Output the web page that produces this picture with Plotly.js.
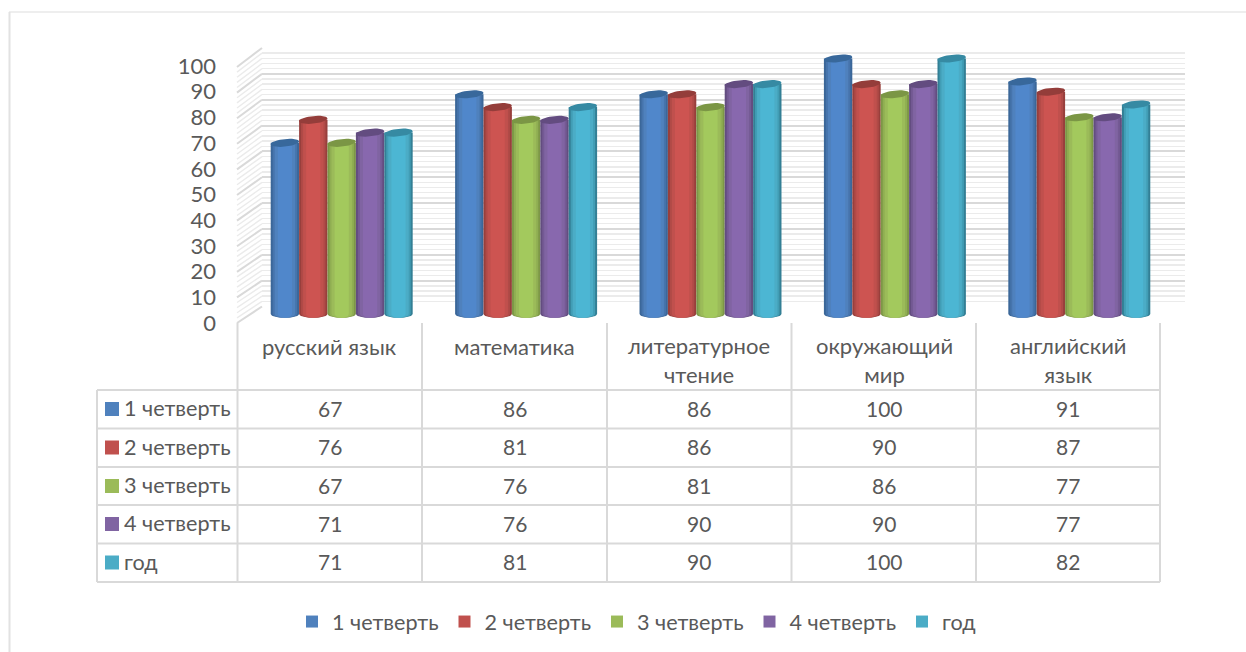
<!DOCTYPE html>
<html><head><meta charset="utf-8">
<script src="https://cdn.plot.ly/plotly-3.0.1.min.js"></script>
<style>html,body{margin:0;padding:0;background:#fff}#c{width:1246px;height:652px}</style>
</head><body><div id="c"></div>
<script>
const categories = ["русский язык","математика","литературное<br>чтение","окружающий<br>мир","английский<br>язык"];
const seriesNames = ["1 четверть","2 четверть","3 четверть","4 четверть","год"];
const q1 = [67,86,86,100,91];
const q2 = [76,81,86,90,87];
const q3 = [67,76,81,86,77];
const q4 = [71,76,90,90,77];
const year = [71,81,90,100,82];
const allSeries = [q1,q2,q3,q4,year];
const baseColors = ["#4f81bd","#c0504d","#9bbb59","#8064a2","#4bacc6"];
const lightColors = ["#5087cb","#cd5451","#a3c95d","#8868ae","#4cb6d3"];
const edgeColors = ["#3b6799","#983f3c","#7d9747","#634d80","#337f95"];
const midColors = ["#4674ac","#b04a47","#8fae52","#745a94","#419db5"];
const capColors = ["#38689b","#943d3a","#7b9645","#634c80","#368aa3"];
const FONT = "Lato, Carlito, 'Noto Sans', sans-serif";
const TXT = "#595959", GRID = "#d9d9d9", MINOR = "#ebebeb";
const W = 1246, H = 652;
const px = x => x / W, py = y => 1 - y / H;
const xDomain = (a,b) => [px(a),px(b)];
function yDomain(y0,y100,lo,hi){ const s=(y0-y100)/100; return [py(y0-lo*s), py(y0-hi*s)]; }

const barWidth = 0.154, nS = 5;
const bands = [[1,edgeColors],[0.86,midColors],[0.72,baseColors],[0.5,lightColors]];
const traces = [];
traces.push({type:"scatter",mode:"none",x:[0],y:[0],xaxis:"x",yaxis:"y",showlegend:false,hoverinfo:"skip"});
allSeries.forEach((vals,s)=>{
  const centerOff = (s-(nS-1)/2)*barWidth;
  bands.forEach(([f,cols],bi)=>{
    const w = barWidth*f;
    traces.push({type:"bar",name:seriesNames[s],x:vals.map((_,i)=>i),y:vals,
      width:vals.map(()=>w),offset:vals.map(()=>centerOff-w/2),
      marker:{color:cols[s],line:{width:0}},xaxis:"x2",yaxis:"y2",
      showlegend:bi===2,legendgroup:seriesNames[s],hoverinfo:"skip"});
  });
});
const aX = barWidth/2, bY = 1.5, tilt = 0.55;
allSeries.forEach((vals,s)=>{
  const centerOff = (s-(nS-1)/2)*barWidth;
  // rounded foot of each bar: nested half ellipses that continue the shading bands
  bands.forEach(([f,cols])=>{
    const bx=[],by=[];
    vals.forEach((v,i)=>{
      for(let k=0;k<=18;k++){const t=k/18*Math.PI;
        bx.push(i+centerOff+aX*f*Math.cos(t)); by.push(-bY*Math.sin(t));}
      bx.push(null);by.push(null);
    });
    traces.push({type:"scatter",mode:"lines",x:bx,y:by,fill:"toself",fillcolor:cols[s],line:{width:0},showlegend:false,hoverinfo:"skip",xaxis:"x2",yaxis:"y2"});
  });
  const cx=[],cy=[];
  vals.forEach((v,i)=>{
    for(let k=0;k<=36;k++){const t=k/36*2*Math.PI;
      cx.push(i+centerOff+aX*Math.cos(t)); cy.push(v+bY*Math.sin(t)+tilt*Math.cos(t));}
    cx.push(null);cy.push(null);
  });
  traces.push({type:"scatter",mode:"lines",x:cx,y:cy,fill:"toself",fillcolor:capColors[s],line:{width:0},showlegend:false,hoverinfo:"skip",xaxis:"x2",yaxis:"y2"});
});
traces.push({type:"scatter",mode:"none",x:[0],y:[0],xaxis:"x3",yaxis:"y3",showlegend:false,hoverinfo:"skip"});

const shapes = [], annotations = [];
function line(x0,y0,x1,y1,color,width,layer){
  shapes.push({type:"line",xref:"paper",yref:"paper",x0:px(x0),y0:py(y0),x1:px(x1),y1:py(y1),line:{color,width},layer:layer||"below"});
}
line(9,12,1246,12,"#dedede",1.2); line(9.5,12,9.5,652,"#e2e2e2",2);
for(let v=0;v<=100;v+=2){
  const major = v%10===0;
  line(237,323-2.56*v,262,306.5-2.585*v,major?GRID:MINOR,major?2:1.4);
}
[390,428.5,467,505,543.5,582].forEach(y=>line(97,y,1160,y,GRID,2));
[237.5,422,607,791.5,976,1160].forEach(x=>line(x,323,x,582,GRID,2));
line(97,390,97,582,GRID,2);
const colX = [330,514.5,699,884,1068];
const rowY = [409,447.5,486,524,562.5];
categories.forEach((c,i)=>annotations.push({xref:"paper",yref:"paper",x:px(colX[i]),y:py(i<2?346:360),text:c,showarrow:false,
  font:{family:FONT,size:22,color:TXT},xanchor:"center",yanchor:"middle",align:"center"}));
seriesNames.forEach((n,s)=>{
  annotations.push({xref:"paper",yref:"paper",x:px(122),y:py(rowY[s]-1),text:n,showarrow:false,xanchor:"left",yanchor:"middle",
    font:{family:FONT,size:21.6,color:TXT}});
  shapes.push({type:"rect",xref:"paper",yref:"paper",x0:px(105),x1:px(119),y0:py(rowY[s]-7),y1:py(rowY[s]+7),fillcolor:baseColors[s],line:{width:0},layer:"above"});
  allSeries[s].forEach((v,i)=>annotations.push({xref:"paper",yref:"paper",x:px(colX[i]),y:py(rowY[s]-1),text:String(v),showarrow:false,
    xanchor:"center",yanchor:"middle",font:{family:FONT,size:21,color:TXT}}));
});

const layout = {
  width:W,height:H,margin:{l:0,r:0,t:0,b:0},paper_bgcolor:"#fff",plot_bgcolor:"rgba(0,0,0,0)",
  barmode:"overlay",showlegend:true,
  font:{family:FONT,color:TXT},
  legend:{orientation:"h",itemwidth:30,entrywidth:107.5,entrywidthmode:"pixels",x:px(292),xanchor:"left",y:py(622),yanchor:"middle",font:{family:FONT,size:21.6,color:TXT},bgcolor:"rgba(0,0,0,0)",itemclick:false,itemdoubleclick:false,traceorder:"normal"},
  xaxis:{domain:xDomain(262,1185),range:[-0.5,4.5],visible:false,anchor:"y"},
  yaxis:{domain:yDomain(306.5,48,0,100),range:[0,100],anchor:"x",showline:false,zeroline:false,showticklabels:false,
    tick0:0,dtick:10,showgrid:true,gridcolor:GRID,gridwidth:2,ticks:"",
    minor:{dtick:2,showgrid:true,gridcolor:MINOR,gridwidth:1.4,ticks:""}},
  xaxis2:{domain:xDomain(249.5,1171.5),range:[-0.5,4.5],visible:false,anchor:"y2"},
  yaxis2:{domain:yDomain(314,58.5,-4,104),range:[-4,104],visible:false,anchor:"x2"},
  xaxis3:{domain:xDomain(238,1160),range:[-0.5,4.5],visible:false,anchor:"y3"},
  yaxis3:{domain:yDomain(323,66,0,100),range:[0,100],anchor:"free",position:px(216),side:"left",showline:false,zeroline:false,showgrid:false,
    tickmode:"array",tickvals:[0,10,20,30,40,50,60,70,80,90,100],ticktext:["0","10","20","30","40","50","60","70","80","90","100"],
    tickfont:{family:FONT,size:22,color:TXT},ticks:"",ticklen:0},
  shapes,annotations
};
Plotly.newPlot("c",traces,layout,{displayModeBar:false,staticPlot:true});
</script></body></html>
